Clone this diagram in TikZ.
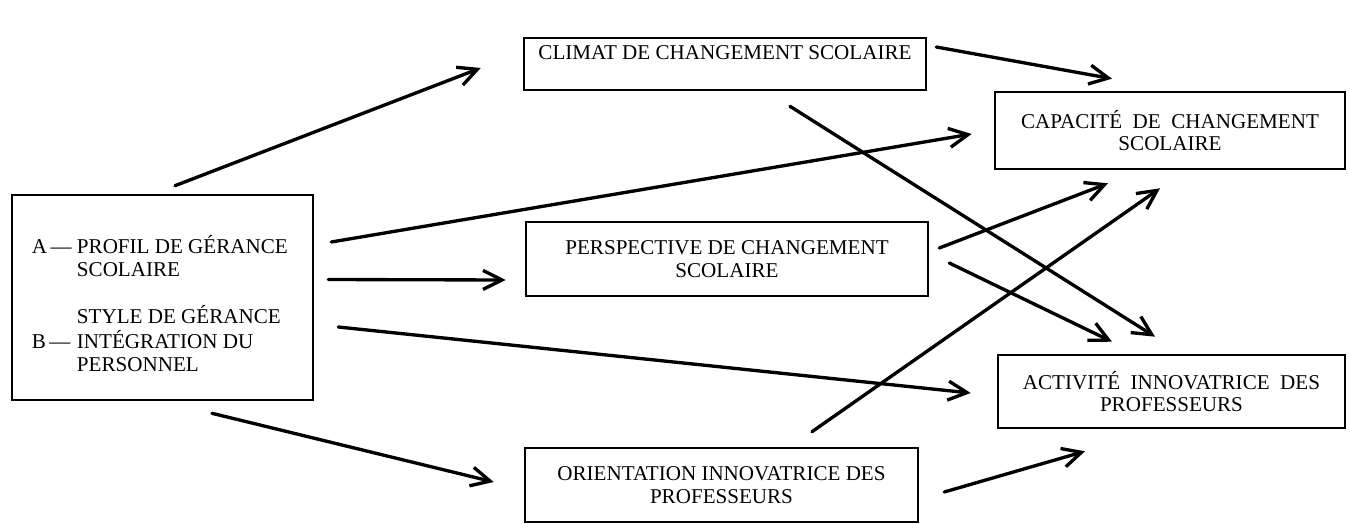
\documentclass[tikz,border=0pt]{standalone}
\usepackage{fontspec}
\setmainfont{Liberation Serif}
\usetikzlibrary{arrows.meta,positioning}
\tikzset{
    % Sharp corners, plain black boxes
    facteurbox/.style={
        rectangle,
        draw=black,
        fill=white,
        line width=1.5pt,
        align=center,
        inner sep=2pt,
        font=\fontsize{12}{13}\selectfont
    },
    fleche/.style={
        -{Straight Barb[length=3.8mm,width=3.8mm]},
        line width=1.9pt,
        line cap=round,
        color=black
    }
}
\begin{document}
\begin{tikzpicture}[x=0.02cm, y=-0.02cm]
    \useasboundingbox (0,0) rectangle (1350,524);

    \node[facteurbox, minimum width=6.02cm, minimum height=4.1cm] (gerance) at (162.5,297.5) {
        \begin{tabular}{@{}l@{\ }l@{}}
            \rule{0pt}{21pt}A\,— & PROFIL DE GÉRANCE\\
                   & SCOLAIRE\\[13pt]
                   & STYLE DE GÉRANCE\\
            B\,—   & INTÉGRATION DU\\
                   & PERSONNEL
        \end{tabular}
    };
    \node[facteurbox, minimum width=8.04cm, minimum height=1.04cm] (climat) at (725,64) {
        CLIMAT DE CHANGEMENT SCOLAIRE\\ \mbox{}
    };
    \node[facteurbox, minimum width=8.04cm, minimum height=1.48cm] (perspective) at (727,259) {
        PERSPECTIVE DE CHANGEMENT\\
        SCOLAIRE
    };
    \node[facteurbox, minimum width=7.86cm, minimum height=1.48cm] (orientation) at (721.5,485) {
        ORIENTATION INNOVATRICE DES\\
        PROFESSEURS
    };
    \node[facteurbox, minimum width=7cm, minimum height=1.54cm] (capacite) at (1170,130.5) {
        CAPACITÉ \ DE \ CHANGEMENT\\
        SCOLAIRE
    };
    \node[facteurbox, minimum width=6.94cm, minimum height=1.46cm] (activite) at (1171.5,391.5) {
        ACTIVITÉ \ INNOVATRICE \ DES\\
        PROFESSEURS
    };

    % from the management box
    \draw[fleche] ([shift={(12.5,-8)}]gerance.north) -- ([shift={(-42,4)}]climat.west);
    \draw[fleche] ([shift={(17,-55.5)}]gerance.east) -- ([shift={(-22,3.5)}]capacite.west);
    \draw[fleche] ([shift={(14,-18)}]gerance.east) -- ([shift={(-19,21)}]perspective.west);
    \draw[fleche] ([shift={(24,29.5)}]gerance.east) -- ([shift={(-26,1.5)}]activite.west);
    \draw[fleche] ([shift={(49.5,12)}]gerance.south) -- ([shift={(-30,-3)}]orientation.west);

    % middle column to the right column
    \draw[fleche] ([shift={(9,-17)}]climat.east) -- ([shift={(-58,-12)}]capacite.north);
    \draw[fleche] ([shift={(65,15)}]climat.south) -- ([shift={(-16.5,-17)}]activite.north);
    \draw[fleche] ([shift={(10,-11)}]perspective.east) -- ([shift={(-62,13)}]capacite.south);
    \draw[fleche] ([shift={(20,4)}]perspective.east) -- ([shift={(-59.5,-12)}]activite.north);
    \draw[fleche] ([shift={(90.5,-15)}]orientation.north) -- ([shift={(-10,18)}]capacite.south);
    \draw[fleche] ([shift={(25,7)}]orientation.east) -- ([shift={(-86.5,22)}]activite.south);
\end{tikzpicture}
\end{document}
